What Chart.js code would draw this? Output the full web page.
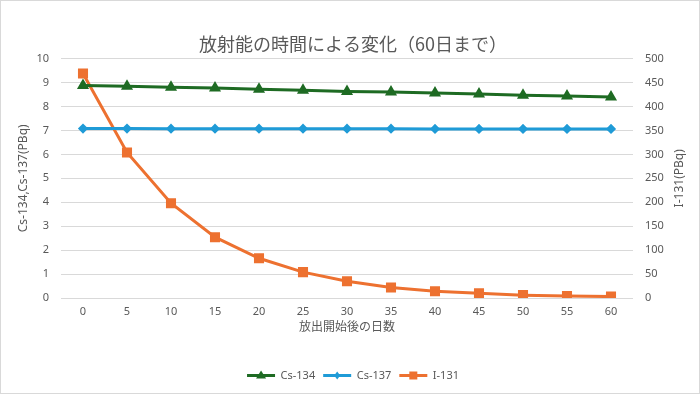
<!DOCTYPE html>
<html><head><meta charset="utf-8">
<script src="https://cdn.jsdelivr.net/npm/chart.js@4/dist/chart.umd.min.js"></script>
<style>html,body{margin:0;padding:0;background:#fff}#wrap{width:700px;height:394px}</style>
</head><body><div id="wrap"><canvas id="c" width="700" height="394"></canvas></div>
<script>
const days = ['0','5','10','15','20','25','30','35','40','45','50','55','60'];
const cs134 = [8.88, 8.84, 8.80, 8.77, 8.72, 8.68, 8.63, 8.60, 8.56, 8.52, 8.47, 8.44, 8.40];
const cs137 = [7.08, 7.08, 7.07, 7.07, 7.07, 7.07, 7.07, 7.07, 7.06, 7.06, 7.06, 7.06, 7.06];
const i131 = [469, 304, 198, 127, 83, 54, 35, 22, 14, 10, 6, 4, 3];
const leftTicks = [0,1,2,3,4,5,6,7,8,9,10];
const rightTicks = [0,50,100,150,200,250,300,350,400,450,500];
const rightTitle = 'I-131(PBq)';
const xTitle = '放出開始後の日数';

const latin = '"Noto Sans", "Noto Sans CJK JP", sans-serif';
const jp = '"Noto Sans CJK JP", sans-serif';
const grey = '#595959';

const frame = {
  id:'frame',
  beforeDraw(c){const x=c.ctx;x.save();x.fillStyle='#fff';x.fillRect(0,0,c.width,c.height);
    x.strokeStyle='#d9d9d9';x.lineWidth=1;x.strokeRect(0.5,0.5,c.width-1,c.height-1);x.restore();},
  afterDraw(c){
    const x=c.ctx; const ca=c.chartArea;
    x.save();
    x.fillStyle=grey; x.font='12px '+jp; x.textAlign='center'; x.textBaseline='middle';
    x.fillText(xTitle,(ca.left+ca.right)/2, ca.bottom+28);
    x.restore();
    x.save();
    x.translate(680,(ca.top+ca.bottom)/2); x.rotate(-Math.PI/2);
    x.fillStyle=grey; x.font='12px '+latin; x.textAlign='center'; x.textBaseline='middle';
    x.fillText(rightTitle,0,0);
    x.restore();
    const lg=c.legend; if(!lg||!lg.legendHitBoxes) return;
    x.save();
    lg.legendHitBoxes.forEach((b,i)=>{
      const ds=c.data.datasets[i];
      const cx=b.left+14, cy=b.top+b.height/2;
      x.fillStyle=ds.borderColor;x.strokeStyle=ds.borderColor;
      x.fillRect(b.left, cy-1.5, 28, 3);
      x.beginPath();
      const r=4;
      if(ds.pointStyle==='triangle'){x.moveTo(cx,cy-r-1);x.lineTo(cx+r+1,cy+r-1);x.lineTo(cx-r-1,cy+r-1);x.closePath();}
      else if(ds.pointStyle==='rectRot'){x.moveTo(cx,cy-r);x.lineTo(cx+r-1,cy);x.lineTo(cx,cy+r);x.lineTo(cx-r+1,cy);x.closePath();}
      else {x.rect(cx-4,cy-4,8,8);}
      x.fill();
    });
    x.restore();
  }
};

new Chart(document.getElementById('c'), {
  type:'line',
  data:{labels:days, datasets:[
    {label:'Cs-134', data:cs134, yAxisID:'y', borderColor:'#1e6b23', backgroundColor:'#1e6b23', borderWidth:3, pointStyle:'triangle', pointRadius:4, tension:0},
    {label:'Cs-137', data:cs137, yAxisID:'y', borderColor:'#1f9bd7', backgroundColor:'#1f9bd7', borderWidth:3, pointStyle:'rectRot', pointRadius:3, tension:0},
    {label:'I-131', data:i131, yAxisID:'y1', borderColor:'#ed7130', backgroundColor:'#ed7130', borderWidth:3, pointStyle:'rect', pointRadius:5, tension:0}
  ]},
  options:{
    responsive:false, animation:false, devicePixelRatio:1,
    layout:{padding:{left:16,right:10,top:8,bottom:3}},
    plugins:{
      title:{display:true, text:'放射能の時間による変化（60日まで）', color:grey, font:{family:jp,size:18,weight:'normal'}, padding:{top:25,bottom:4}},
      legend:{position:'bottom', labels:{color:grey, font:{family:latin,size:11}, boxWidth:28, boxHeight:10, padding:8,
        generateLabels(c){return c.data.datasets.map((d,i)=>({text:d.label, fillStyle:'rgba(0,0,0,0)', strokeStyle:'rgba(0,0,0,0)', lineWidth:0, datasetIndex:i, fontColor:grey}));}}},
      tooltip:{enabled:false}
    },
    scales:{
      x:{offset:true, grid:{display:false, drawTicks:false}, border:{display:false}, ticks:{color:grey, font:{family:latin,size:11}, padding:7},
        afterFit(a){a.height=64;}},
      y:{position:'left', min:0, max:10, afterBuildTicks(a){a.ticks=leftTicks.map(v=>({value:v}));},
        grid:{color:'#d9d9d9', drawTicks:false}, border:{display:false},
        ticks:{color:grey, font:{family:latin,size:11}, padding:12},
        title:{display:true, text:'Cs-134,Cs-137(PBq)', color:grey, font:{family:latin,size:12}, padding:{top:0,bottom:4}},
        afterFit(a){a.width=45;}},
      y1:{position:'right', min:0, max:500, afterBuildTicks(a){a.ticks=rightTicks.map(v=>({value:v}));},
        grid:{display:false, drawTicks:false}, border:{display:false},
        ticks:{color:grey, font:{family:latin,size:11}, padding:12},
        afterFit(a){a.width=57;}}
    }
  },
  plugins:[frame]
});
</script></body></html>
